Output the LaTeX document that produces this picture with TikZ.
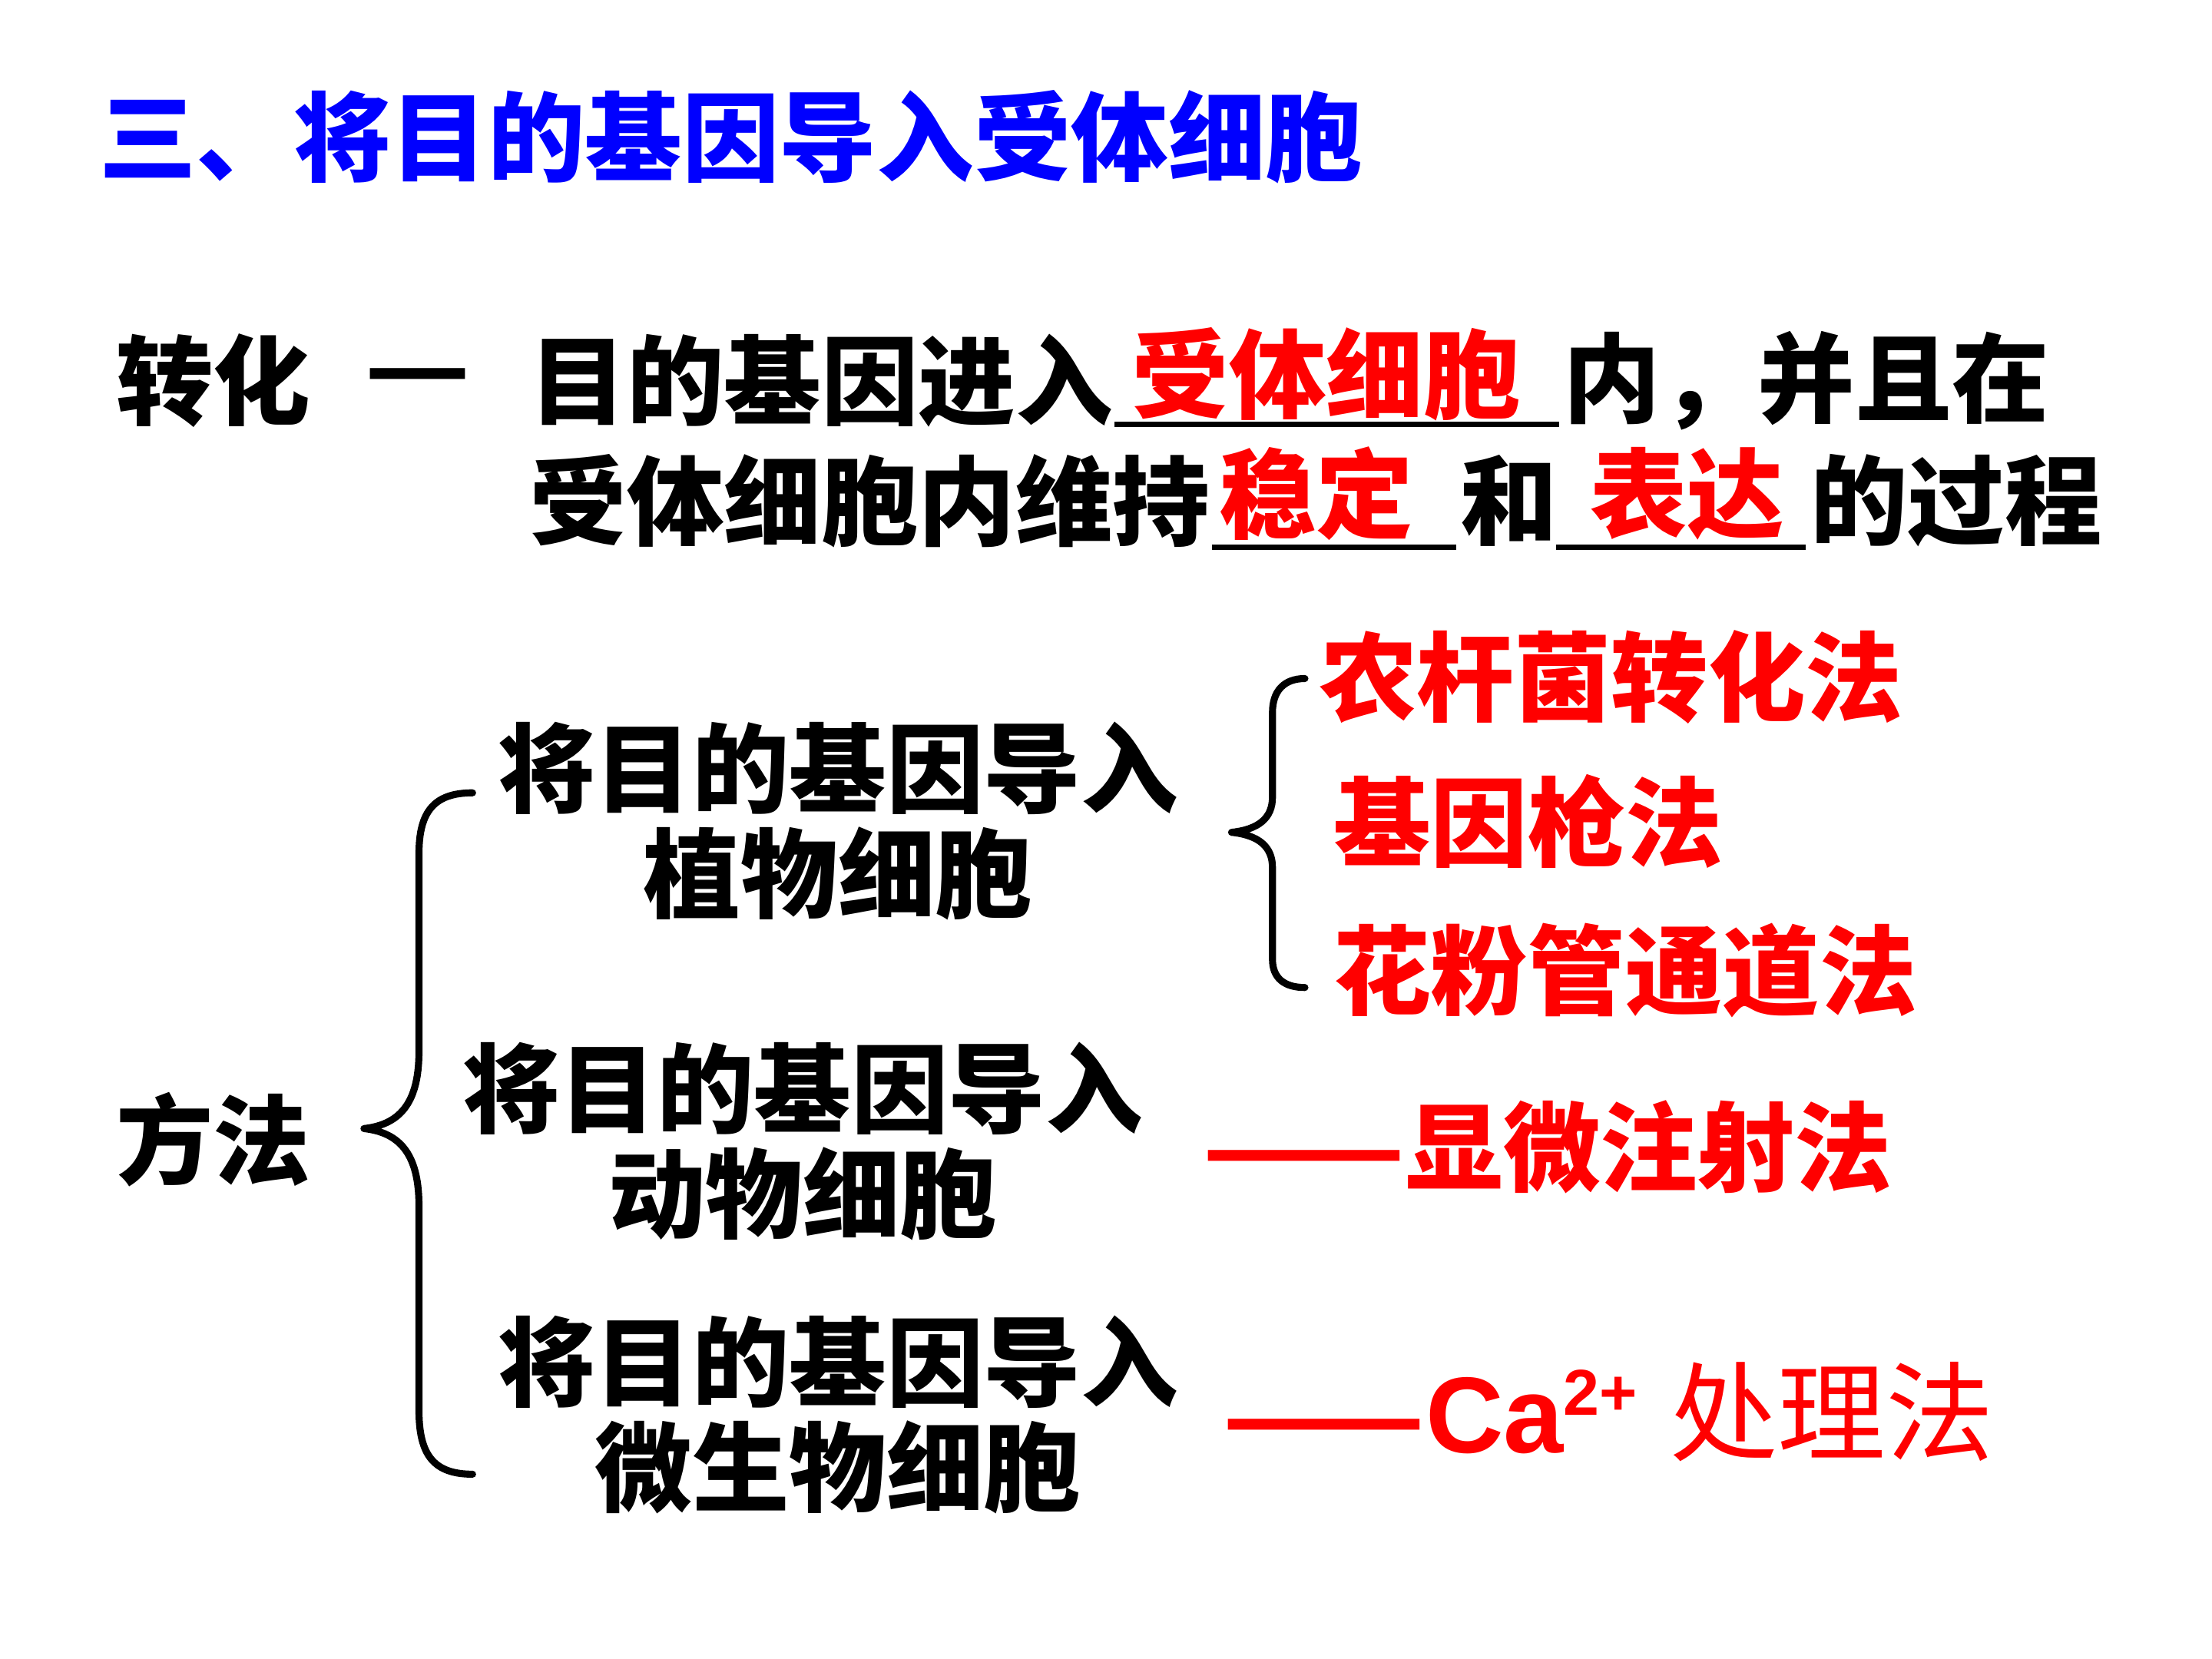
\documentclass[tikz,border=0pt]{standalone}
\usepackage{fontspec}
\setmainfont{Noto Sans CJK SC}
\newfontfamily\latinfont{Liberation Sans}

\begin{document}
\begin{tikzpicture}[x=0.18367mm, y=-0.18367mm,
			text_style/.style={inner sep=0pt, font=\fontsize{36}{39}\selectfont\bfseries},
			title_style/.style={text_style, text=blue, anchor=west},
			red_style/.style={text_style, text=red, anchor=west},
			group_style/.style={text_style, align=center},
			brace_style/.style={line width=2.6pt, line cap=round, line join=round},
			blank_style/.style={line width=2pt}]
			\useasboundingbox (0,0) rectangle (1568,1176);
			
			% title
			\node[title_style] (title) at (70,97) {三、将目的基因导入受体细胞};
			
			% definition
			\node[text_style, anchor=west] (zh) at (82,270) {转化};
			\node[text_style, anchor=west] (dash) at (258,273) {\scalebox{1.2}[1]{—}};
			\node[text_style, anchor=west] (l1a) at (375,270) {目的基因进入};
			\node[red_style, anchor=center] (a1) at (940,265) {受体细胞};
			\node[text_style, anchor=west] (l1b) at (1108,270) {内，并且在};
			\node[text_style, anchor=west] (l2a) at (375,355) {受体细胞内维持};
			\node[red_style, anchor=center] (a2) at (933,350) {稳定};
			\node[text_style, anchor=west] (l2b) at (1035,355) {和};
			\node[red_style, anchor=center] (a3) at (1196,350) {表达};
			\node[text_style, anchor=west] (l2c) at (1283,355) {的过程};
			\draw[blank_style] (790,301) -- (1105,301);
			\draw[blank_style] (859,388) -- (1032,388);
			\draw[blank_style] (1103,388) -- (1280,388);
			
			% methods
			\node[text_style, anchor=west] (ff) at (82,808) {方法};
			\node[group_style] (plant) at (594,582) {将目的基因导入\\植物细胞};
			\node[group_style] (animal) at (569,809) {将目的基因导入\\动物细胞};
			\node[group_style] (micro) at (594,1003) {将目的基因导入\\微生物细胞};
			
			\draw[brace_style] (335,562) .. controls (308,562) and (297,575) .. (297,605)
				-- (297,745) .. controls (297,780) and (285,797) .. (258,800)
				.. controls (285,803) and (297,820) .. (297,855)
				-- (297,1000) .. controls (297,1032) and (308,1045) .. (335,1045);
			\draw[brace_style] (925,481) .. controls (910,481) and (902,490) .. (902,505)
				-- (902,565) .. controls (902,580) and (892,588) .. (873,590)
				.. controls (892,592) and (902,600) .. (902,615)
				-- (902,680) .. controls (902,693) and (910,700) .. (925,700);
			
			\node[red_style] (m1) at (935,480) {农杆菌转化法};
			\node[red_style] (m2) at (945,582) {基因枪法};
			\node[red_style] (m3) at (945,688) {花粉管通道法};
			\node[red_style] (m4) at (852,813) {\scalebox{1.22}[1]{——}显微注射法};
			\node[red_style, anchor=base west] (m5) at (866,1030) {\scalebox{1.22}[1]{——}{\latinfont\fontsize{40}{40}\selectfont Ca\raisebox{14pt}{\fontsize{24}{24}\selectfont 2+}}\hspace{12pt}{\mdseries\fontsize{40}{40}\selectfont 处理法}};
		\end{tikzpicture}
\end{document}
